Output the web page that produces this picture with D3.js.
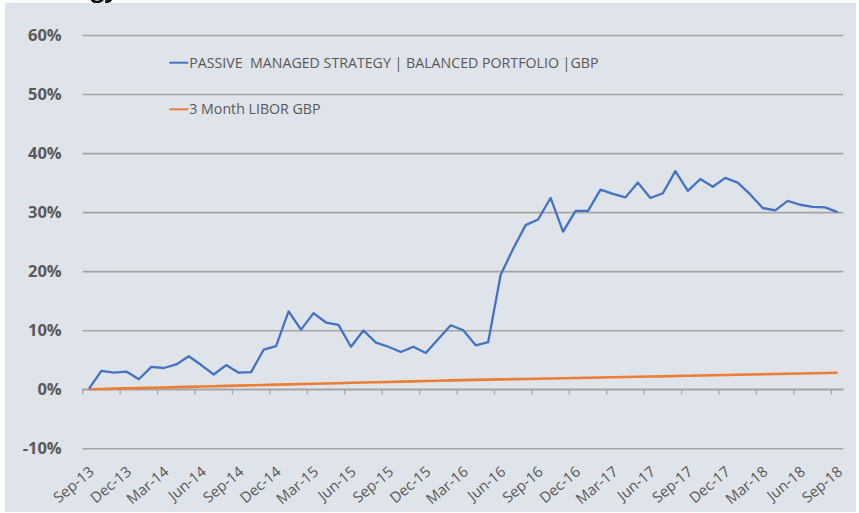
<!DOCTYPE html>
<html>
<head>
<meta charset="utf-8">
<script src="https://cdn.jsdelivr.net/npm/d3@7"></script>
<style>
  html, body { margin: 0; padding: 0; background: #ffffff; }
  svg { display: block; }
  text { font-family: "Open Sans", sans-serif; }
</style>
</head>
<body>
<svg id="chart" width="859" height="513"></svg>
<script>
// ---- data ----
const months = [
  "Sep-13","Oct-13","Nov-13","Dec-13",
  "Jan-14","Feb-14","Mar-14","Apr-14","May-14","Jun-14","Jul-14","Aug-14","Sep-14","Oct-14","Nov-14","Dec-14",
  "Jan-15","Feb-15","Mar-15","Apr-15","May-15","Jun-15","Jul-15","Aug-15","Sep-15","Oct-15","Nov-15","Dec-15",
  "Jan-16","Feb-16","Mar-16","Apr-16","May-16","Jun-16","Jul-16","Aug-16","Sep-16","Oct-16","Nov-16","Dec-16",
  "Jan-17","Feb-17","Mar-17","Apr-17","May-17","Jun-17","Jul-17","Aug-17","Sep-17","Oct-17","Nov-17","Dec-17",
  "Jan-18","Feb-18","Mar-18","Apr-18","May-18","Jun-18","Jul-18","Aug-18","Sep-18"
];
const strategyValues = [
  0.1, 3.1, 2.8, 3.0,
  1.7, 3.8, 3.6, 4.2, 5.6, 4.1, 2.5, 4.1, 2.8, 2.9, 6.7, 7.3,
  13.2, 10.1, 12.9, 11.3, 10.9, 7.2, 9.95, 7.9, 7.2, 6.3, 7.2, 6.15,
  8.5, 10.85, 10.0, 7.45, 8.0, 19.4, 23.8, 27.8, 28.75, 32.4, 26.7, 30.2,
  30.2, 33.8, 33.1, 32.5, 35.0, 32.4, 33.2, 36.95, 33.6, 35.6, 34.3, 35.8,
  35.0, 33.0, 30.7, 30.3, 31.9, 31.25, 30.9, 30.8, 30.0
];
const liborValues = [
  0.00, 0.05, 0.10, 0.16,
  0.21, 0.26, 0.31, 0.36, 0.41, 0.47, 0.52, 0.57, 0.62, 0.67, 0.72, 0.78,
  0.83, 0.88, 0.93, 0.98, 1.03, 1.09, 1.14, 1.19, 1.24, 1.29, 1.34, 1.40,
  1.45, 1.50, 1.55, 1.59, 1.63, 1.67, 1.71, 1.75, 1.79, 1.83, 1.87, 1.91,
  1.95, 1.99, 2.03, 2.07, 2.11, 2.15, 2.19, 2.24, 2.28, 2.32, 2.37, 2.41,
  2.45, 2.50, 2.54, 2.58, 2.63, 2.67, 2.71, 2.76, 2.80
];
const yTicks = [-10, 0, 10, 20, 30, 40, 50, 60];
const seriesNames = ["PASSIVE  MANAGED STRATEGY | BALANCED PORTFOLIO |GBP", "3 Month LIBOR GBP"];
const seriesColors = ["#4472c4", "#ed7d31"];
const titleText = "Passive Managed Strategy";

// ---- layout ----
const svg = d3.select("#chart");
const plot = { left: 82.7, right: 843.8, top: 35, bottom: 448.3 };

svg.append("text")
  .attr("x", 118).attr("y", -3)
  .attr("text-anchor", "end")
  .attr("font-size", 24).attr("font-weight", "bold")
  .attr("fill", "#000")
  .text(titleText);

svg.append("rect")
  .attr("x", 5).attr("y", 3)
  .attr("width", 851).attr("height", 509)
  .attr("fill", "#dfe3ea");

const x = d3.scaleBand().domain(months).range([plot.left, plot.right]).paddingInner(0).paddingOuter(0);
const bw = x.bandwidth();
const y = d3.scaleLinear().domain([-10, 60]).range([plot.bottom, plot.top]);

// gridlines
svg.append("g")
  .attr("transform", `translate(${plot.left},0)`)
  .call(d3.axisLeft(y).tickValues(yTicks).tickSize(-(plot.right - plot.left - 0.5)).tickFormat(""))
  .call(g => g.select(".domain").remove())
  .call(g => g.selectAll(".tick line").attr("stroke", "#a5a5a5").attr("stroke-width", 1.6));

// y labels
svg.append("g")
  .attr("transform", `translate(${plot.left},0)`)
  .call(d3.axisLeft(y).tickValues(yTicks).tickSize(0).tickPadding(21).tickFormat(d => d + "%"))
  .call(g => g.select(".domain").remove())
  .call(g => g.selectAll(".tick text")
    .attr("font-family", "'Open Sans', sans-serif")
    .attr("font-size", 16.5).attr("font-weight", "bold")
    .attr("fill", "#595959"));

// x tick marks at 0% line (ticks between categories)
const tickCats = months.filter((d, i) => i % 3 === 0);
svg.append("g")
  .attr("transform", `translate(${-bw / 2},${y(0)})`)
  .call(d3.axisBottom(x).tickValues(tickCats).tickSize(5).tickFormat(""))
  .call(g => g.select(".domain").remove())
  .call(g => g.selectAll(".tick line").attr("stroke", "#a5a5a5").attr("stroke-width", 1.3));

svg.append("line")
  .attr("x1", plot.left).attr("x2", plot.right - 0.5)
  .attr("y1", y(0)).attr("y2", y(0))
  .attr("stroke", "#a5a5a5").attr("stroke-width", 1.6);

// x labels at the bottom
svg.append("g")
  .attr("transform", `translate(0,${plot.bottom})`)
  .call(d3.axisBottom(x).tickValues(tickCats).tickSize(0).tickFormat(d => d))
  .call(g => g.select(".domain").remove())
  .call(g => g.selectAll(".tick text")
    .attr("font-family", "'Open Sans', sans-serif")
    .attr("font-size", 14.8)
    .attr("fill", "#595959")
    .attr("text-anchor", "end")
    .attr("dy", null)
    .attr("y", 0)
    .attr("transform", "translate(6,25) rotate(-40)"));

// lines
const line = d3.line().x((d, i) => x(months[i]) + bw / 2).y(d => y(d));

svg.append("path")
  .datum(liborValues)
  .attr("fill", "none")
  .attr("stroke", seriesColors[1])
  .attr("stroke-width", 2.6)
  .attr("stroke-linejoin", "round")
  .attr("d", line);

svg.append("path")
  .datum(strategyValues)
  .attr("fill", "none")
  .attr("stroke", seriesColors[0])
  .attr("stroke-width", 2.3)
  .attr("stroke-linejoin", "round")
  .attr("d", line);

// legend
const legendY = [62.7, 109.3];
seriesNames.forEach((name, i) => {
  const g = svg.append("g").attr("transform", `translate(169.3,${legendY[i]})`);
  g.append("line").attr("x1", 0).attr("x2", 19).attr("y1", 0).attr("y2", 0)
    .attr("stroke", seriesColors[i]).attr("stroke-width", 2);
  g.append("text")
    .attr("x", 20).attr("y", 0).attr("dy", "0.36em")
    .attr("font-size", 14.2).attr("fill", "#595959")
    .style("white-space", "pre")
    .text(name);
});
</script>
</body>
</html>
